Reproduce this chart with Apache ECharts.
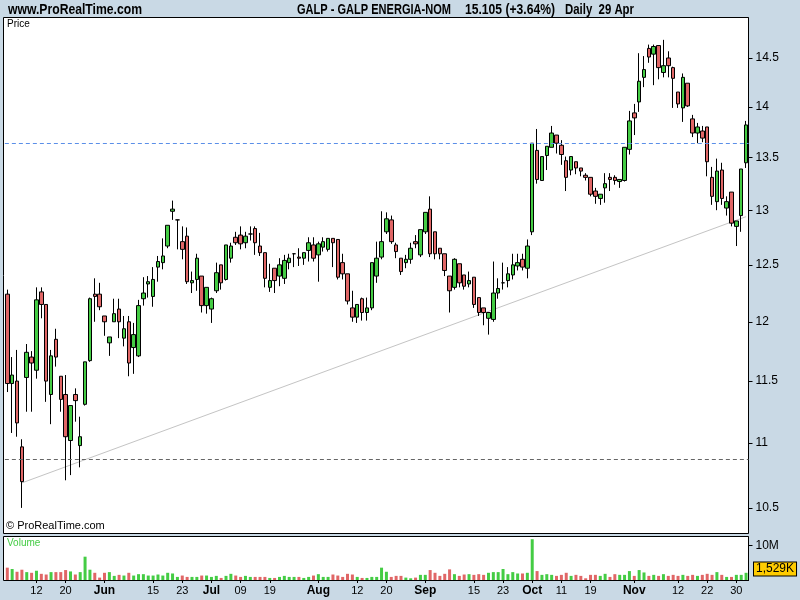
<!DOCTYPE html>
<html>
<head>
<meta charset="utf-8">
<script src="https://cdn.jsdelivr.net/npm/echarts@6/dist/echarts.min.js"></script>
<style>
html,body{margin:0;padding:0;background:#C9D9E5;}
#chart{width:800px;height:600px;}
</style>
</head>
<body>
<div id="chart"></div>
<script>
// ---- trading days (2010) ----
const mayDays = [4,5,6,7,10,11,12,13,14,17,18,19,20,21,24,25,26,27,28,31];
const junDays = [1,2,3,4,7,8,9,10,11,14,15,16,17,18,21,22,23,24,25,28,29,30];
const julDays = [1,2,5,6,7,8,9,12,13,14,15,16,19,20,21,22,23,26,27,28,29,30];
const augDays = [2,3,4,5,6,9,10,11,12,13,16,17,18,19,20,23,24,25,26,27,30,31];
const sepDays = [1,2,3,6,7,8,9,10,13,14,15,16,17,20,21,22,23,24,27,28,29,30];
const octDays = [1,4,5,6,7,8,11,12,13,14,15,18,19,20,21,22,25,26,27,28,29];
const novDays = [1,2,3,4,5,8,9,10,11,12,15,16,17,18,19,22,23,24,25,26,29,30];
const decDays = [1,2];

// ---- x tick labels ----
const xTickDates = ['05-12','05-20','06-01','06-15','06-23','07-01','07-09','07-19','08-02','08-12','08-20','09-01','09-15','09-23','10-01','10-11','10-19','11-01','11-12','11-22','11-30'];
const xTickLabels = ['12','20','Jun','15','23','Jul','09','19','Aug','12','20','Sep','15','23','Oct','11','19','Nov','12','22','30'];
const monthLabels = ['Jun','Jul','Aug','Sep','Oct','Nov'];

// ---- y tick labels ----
const yTicks = [10.5,11,11.5,12,12.5,13,13.5,14,14.5];
const volTicks = [10];

// ---- price data ----
const opens = [12.24,11.48,11.50,10.97,11.53,11.70,11.59,12.26,12.15,11.39,
11.85,11.54,11.39,11.02,11.39,10.98,11.31,11.67,12.24,12.24,
12.05,11.82,12.00,12.11,11.86,12.00,11.78,11.71,12.20,12.33,
12.22,12.48,12.52,12.67,12.99,12.91,12.71,12.76,12.34,12.37,
12.40,12.14,12.11,12.27,12.50,12.37,12.56,12.75,12.77,12.70,
12.78,12.83,12.67,12.61,12.30,12.47,12.40,12.38,12.52,12.60,
12.57,12.56,12.63,12.68,12.59,12.66,12.64,12.74,12.73,12.52,
12.42,12.12,12.04,12.20,12.08,12.12,12.40,12.57,12.80,12.91,
12.68,12.56,12.52,12.55,12.71,12.59,12.80,13.01,12.80,12.65,
12.60,12.40,12.30,12.51,12.41,12.33,12.39,12.21,12.12,12.03,
12.02,12.25,12.34,12.36,12.41,12.49,12.55,12.47,12.80,13.57,
13.28,13.52,13.60,13.72,13.62,13.47,13.38,13.46,13.40,13.33,
13.31,13.18,13.11,13.21,13.31,13.31,13.27,13.28,13.58,13.94,
14.05,14.30,14.60,14.54,14.63,14.35,14.50,14.40,14.15,13.99,
14.24,13.88,13.74,13.76,13.80,13.31,13.08,13.38,13.02,13.17,
12.85,12.95,13.45];
const closes = [11.48,11.55,11.16,10.70,11.74,11.65,12.19,12.15,11.50,11.71,
11.70,11.35,11.05,11.30,11.34,11.05,11.66,12.20,12.22,12.13,
12.00,11.87,12.07,12.00,11.94,11.65,11.89,12.14,12.25,12.35,
12.37,12.53,12.58,12.86,13.01,12.91,12.64,12.35,12.36,12.56,
12.14,12.30,12.20,12.43,12.34,12.68,12.67,12.70,12.69,12.76,
12.78,12.70,12.61,12.38,12.36,12.36,12.50,12.54,12.56,12.60,
12.56,12.61,12.70,12.56,12.69,12.71,12.74,12.70,12.39,12.42,
12.18,12.04,12.15,12.08,12.12,12.52,12.56,12.71,12.92,12.71,
12.62,12.44,12.55,12.65,12.69,12.82,12.98,12.60,12.60,12.60,
12.45,12.27,12.55,12.34,12.31,12.36,12.15,12.08,12.08,12.08,
12.25,12.29,12.34,12.42,12.50,12.52,12.48,12.67,13.64,13.29,
13.51,13.61,13.74,13.64,13.53,13.31,13.51,13.40,13.37,13.31,
13.15,13.13,13.15,13.25,13.29,13.28,13.29,13.60,13.86,13.89,
14.26,14.38,14.51,14.62,14.40,14.42,14.42,14.29,14.03,14.30,
14.01,13.74,13.80,13.69,13.46,13.13,13.37,13.11,13.08,12.88,
12.90,13.39,13.82];
const lows = [11.41,11.08,11.05,10.50,11.25,11.25,11.52,12.03,11.33,11.15,
11.62,11.25,10.71,10.75,11.17,10.81,11.30,11.66,12.00,12.10,
11.88,11.71,12.00,11.86,11.79,11.54,11.56,11.70,12.14,12.21,
12.13,12.35,12.46,12.65,12.91,12.64,12.55,12.33,12.25,12.27,
12.08,12.07,11.99,12.25,12.28,12.36,12.52,12.68,12.64,12.65,
12.72,12.59,12.58,12.30,12.26,12.25,12.31,12.33,12.46,12.48,
12.49,12.50,12.53,12.53,12.35,12.62,12.62,12.48,12.37,12.37,
12.15,12.00,11.99,12.01,12.01,12.10,12.34,12.55,12.78,12.69,
12.56,12.41,12.47,12.51,12.65,12.57,12.78,12.57,12.55,12.55,
12.40,12.08,12.28,12.30,12.28,12.30,12.12,12.05,11.97,11.89,
12.00,12.20,12.28,12.30,12.37,12.45,12.45,12.38,12.77,13.25,
13.28,13.38,13.60,13.54,13.43,13.18,13.33,13.34,13.32,13.28,
13.13,13.06,13.05,13.07,13.18,13.24,13.21,13.27,13.53,13.72,
13.95,14.20,14.45,14.22,14.28,14.30,14.30,13.99,13.99,13.85,
14.00,13.70,13.64,13.65,13.32,13.05,13.00,13.05,12.95,12.85,
12.67,12.80,13.40];
const highs = [12.28,11.70,11.76,11.03,11.81,11.75,12.30,12.30,12.15,11.76,
11.94,11.54,11.55,11.30,11.44,11.21,11.66,12.21,12.38,12.34,
12.05,11.87,12.20,12.20,12.05,12.05,11.99,12.19,12.39,12.40,
12.48,12.58,12.74,12.86,13.09,12.91,12.85,12.84,12.44,12.60,
12.40,12.30,12.21,12.52,12.50,12.68,12.70,12.80,12.85,12.80,
12.85,12.85,12.79,12.61,12.51,12.47,12.56,12.59,12.60,12.60,
12.65,12.61,12.75,12.75,12.71,12.75,12.74,12.74,12.73,12.60,
12.42,12.27,12.15,12.21,12.21,12.52,12.71,12.99,12.98,12.95,
12.70,12.56,12.59,12.70,12.77,12.82,12.98,13.13,12.80,12.65,
12.60,12.40,12.56,12.51,12.41,12.44,12.39,12.21,12.12,12.08,
12.53,12.38,12.52,12.48,12.60,12.60,12.60,12.73,13.64,13.78,
13.51,13.61,13.81,13.72,13.67,13.51,13.51,13.46,13.40,13.35,
13.31,13.21,13.15,13.35,13.35,13.33,13.29,13.60,13.96,14.03,
14.55,14.52,14.64,14.64,14.63,14.69,14.57,14.41,14.15,14.34,
14.24,13.92,13.84,13.81,13.80,13.41,13.49,13.45,13.13,13.17,
12.90,13.39,13.86];
// volume in millions
const volumes = [3.6,3.2,2.4,3.0,2.3,2.1,2.7,1.8,1.6,2.3,
2.3,2.3,2.9,2.5,1.6,2.3,6.8,3.0,2.1,0.7,
2.1,2.3,1.2,1.5,1.3,2.1,1.3,1.7,1.7,1.3,
1.3,1.6,1.3,2.1,1.9,0.9,1.3,0.9,0.9,0.9,
1.3,1.3,0.9,1.2,0.6,1.2,1.8,1.3,0.9,1.2,
0.9,0.9,0.9,0.9,0.6,0.6,0.9,1.2,0.9,0.9,
0.9,0.6,0.9,1.3,1.7,0.9,0.9,1.6,1.3,0.9,
1.8,1.6,0.9,0.6,0.6,0.9,0.9,3.6,2.4,0.9,
1.2,1.2,0.7,0.5,0.7,1.5,1.5,2.9,2.1,1.2,
1.8,3.1,1.7,1.2,1.6,1.7,1.5,1.7,1.5,2.1,
2.3,2.3,3.2,1.7,2.3,1.9,1.9,2.1,11.9,2.6,
1.5,1.7,1.5,1.2,1.5,2.1,1.2,1.5,1.2,0.5,
1.5,1.5,1.2,1.8,0.9,1.7,1.5,1.5,2.6,1.2,
2.9,2.2,1.2,1.5,1.2,1.7,1.2,1.5,1.2,1.5,
1.2,1.5,1.2,1.5,1.8,1.5,2.3,1.5,0.9,0.9,
1.5,1.5,2.1];

// trend line (drawn between two points) and horizontal levels
const trendPoints = [[3, 10.69], [152, 12.94]];
const levelBlue = 13.64;
const levelGray = 10.873;

// ---- build ----
const dates = [];
[[5,mayDays],[6,junDays],[7,julDays],[8,augDays],[9,sepDays],[10,octDays],[11,novDays],[12,decDays]].forEach(([m,ds]) => {
  ds.forEach(d => dates.push(String(m).padStart(2,'0') + '-' + String(d).padStart(2,'0')));
});
const tickSet = new Set(xTickDates.map(d => dates.indexOf(d)));
const UP = '#44CC44', DOWN = '#E06666';
const FONT = '"Liberation Sans", Arial, sans-serif';

const candleData = opens.map((o, i) => [o, closes[i], lows[i], highs[i]]);
const volData = volumes.map((v, i) => ({value: v, itemStyle: {color: closes[i] >= opens[i] ? UP : DOWN}}));

// header texts squeezed to the condensed look of the original
const measureCtx = document.createElement('canvas').getContext('2d');
function headerText(text, x, targetWidth) {
  measureCtx.font = 'bold 14px ' + FONT;
  const w = measureCtx.measureText(text).width;
  return {type: 'text', x: x, y: 10, scaleX: targetWidth / w, silent: true,
    style: {text: text, fontSize: 14, fontWeight: 'bold', fontFamily: FONT, fill: '#000', verticalAlign: 'middle'}};
}

const chart = echarts.init(document.getElementById('chart'), null, {renderer: 'canvas'});
const option = {
  backgroundColor: '#C9D9E5',
  animation: false,
  textStyle: {fontFamily: FONT},
  grid: [
    {left: 4.87, right: 51.5, top: 18, height: 514},
    {left: 4.87, right: 51.5, top: 537, height: 43}
  ],
  xAxis: [
    {type: 'category', gridIndex: 0, data: dates, boundaryGap: true,
     axisLine: {show: false}, axisTick: {show: false}, axisLabel: {show: false}, splitLine: {show: false}},
    {type: 'category', gridIndex: 1, data: dates, boundaryGap: true,
     axisLine: {show: true, lineStyle: {color: '#000', width: 1}},
     axisTick: {show: true, alignWithLabel: true, length: 3, interval: (i) => tickSet.has(i), lineStyle: {color: '#000'}},
     axisLabel: {show: true, interval: (i) => tickSet.has(i), margin: 5, fontSize: 11, color: '#000', fontFamily: FONT,
       formatter: (v) => {
         const k = xTickDates.indexOf(v);
         if (k < 0) return '';
         const t = xTickLabels[k];
         return monthLabels.includes(t) ? '{b|' + t + '}' : t;
       },
       rich: {b: {fontWeight: 'bold', fontSize: 12, fontFamily: FONT, color: '#000'}}
     },
     splitLine: {show: false}}
  ],
  yAxis: [
    {type: 'log', logBase: 10, gridIndex: 0, position: 'right', min: 10.32, max: 14.922,
     axisLine: {show: true, lineStyle: {color: '#000', width: 1}},
     axisTick: {show: true, length: 4, customValues: yTicks, lineStyle: {color: '#000'}},
     axisLabel: {show: true, customValues: yTicks, margin: 7, fontSize: 12, color: '#000', fontFamily: FONT,
       formatter: (v) => String(+(+v).toFixed(2))},
     splitLine: {show: false}},
    {type: 'value', gridIndex: 1, position: 'right', min: 0, max: 12.54,
     axisLine: {show: true, lineStyle: {color: '#000', width: 1}},
     axisTick: {show: true, length: 4, customValues: volTicks, lineStyle: {color: '#000'}},
     axisLabel: {show: true, customValues: volTicks, margin: 7, fontSize: 12, color: '#000', fontFamily: FONT,
       formatter: (v) => Math.round(v) + 'M'},
     splitLine: {show: false}}
  ],
  series: [
    {type: 'candlestick', xAxisIndex: 0, yAxisIndex: 0, data: candleData, barWidth: 4, silent: true,
     itemStyle: {color: UP, color0: DOWN, borderColor: '#000', borderColor0: '#000', borderWidth: 1},
     markLine: {silent: true, symbol: 'none', label: {show: false},
       data: [
         {yAxis: levelBlue, lineStyle: {color: '#5B8FE8', type: [4, 3], width: 1}},
         {yAxis: levelGray, lineStyle: {color: '#666666', type: [4, 3], width: 1}}
       ]}},
    {type: 'line', xAxisIndex: 0, yAxisIndex: 0, data: trendPoints, symbol: 'none', silent: true,
     lineStyle: {color: '#C4C4C4', width: 1}, z: 1},
    {type: 'bar', xAxisIndex: 1, yAxisIndex: 1, data: volData, barWidth: 3, silent: true}
  ],
  graphic: [
    {type: 'rect', z: -10, silent: true, shape: {x: 3.5, y: 17.5, width: 745, height: 516}, style: {fill: '#FFFFFF', stroke: '#000', lineWidth: 1}},
    {type: 'rect', z: -10, silent: true, shape: {x: 3.5, y: 536.5, width: 745, height: 44}, style: {fill: '#FFFFFF', stroke: '#000', lineWidth: 1}},
    headerText('www.ProRealTime.com', 8, 134),
    headerText('GALP - GALP ENERGIA-NOM', 297, 154),
    headerText('15.105 (+3.64%)', 465, 90),
    headerText('Daily  29 Apr', 565, 69),
    {type: 'text', x: 7, y: 24, silent: true, style: {text: 'Price', fontSize: 10, fontFamily: FONT, fill: '#000', verticalAlign: 'middle'}},
    {type: 'text', x: 6, y: 526, silent: true, style: {text: '\u00A9 ProRealTime.com', fontSize: 11, fontFamily: FONT, fill: '#000', verticalAlign: 'middle'}},
    {type: 'text', x: 7, y: 543, silent: true, style: {text: 'Volume', fontSize: 10, fontFamily: FONT, fill: '#44CC44', verticalAlign: 'middle'}},
    {type: 'text', x: 754, y: 569, silent: true, style: {text: '1,529K', fontSize: 12, fontFamily: FONT, fill: '#000', verticalAlign: 'middle',
      backgroundColor: '#FFCC00', borderColor: '#000', borderWidth: 1, padding: [1, 2, 0, 2]}}
  ]
};
chart.setOption(option);
</script>
</body>
</html>
